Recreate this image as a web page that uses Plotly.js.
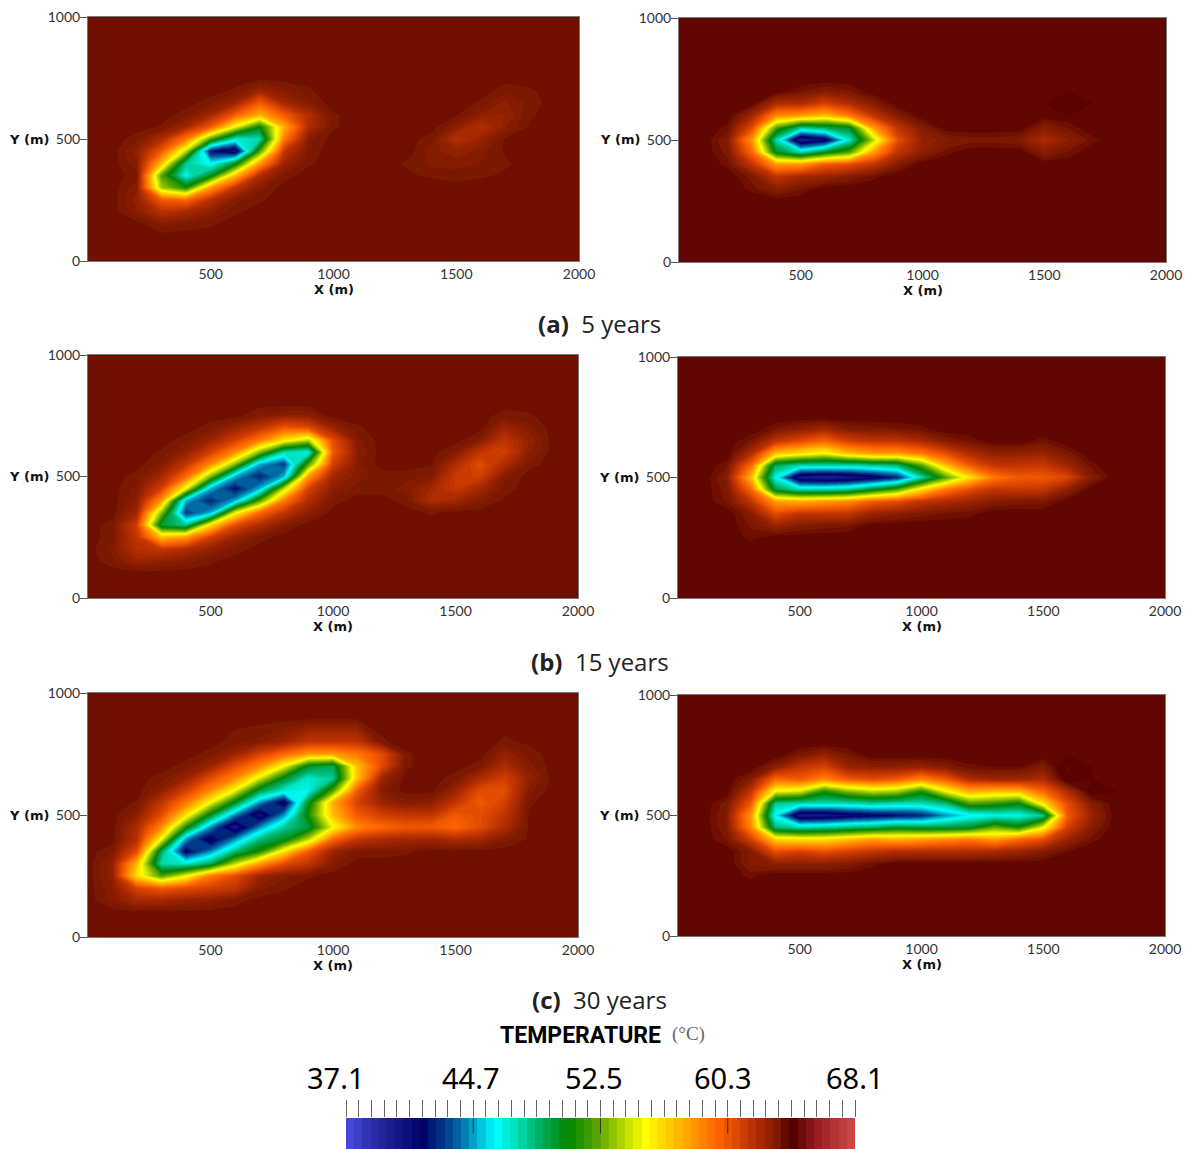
<!DOCTYPE html>
<html><head><meta charset="utf-8">
<script src="https://cdn.plot.ly/plotly-3.0.1.min.js"></script>
<style>html,body{margin:0;padding:0;background:#fff}#g{width:1189px;height:1149px}</style>
</head><body><div id="g"></div>
<script>
// Temperature fields (deg C). x every 100 m; rows listed by yGrid.
const xGrid=[0,100,200,300,400,500,600,700,800,900,1000,1100,1200,1300,1400,1500,1600,1700,1800,1900,2000];
const yGrid=[0,100,150,200,250,300,350,400,450,500,550,600,650,700,750,800,900,1000];
const b=63.5, d=63.85; // background level of left and right panels

const field5L=[
[b],[b],
[b,b,b,63,63.2,63.3],
[b,b,62.9,61.8,62.2,62.8,63.3],
[b,b,62.7,60,59.5,61.8,63,63.3,b,b,b,b,63.55],
[b,b,62.9,53.5,51,58,61.5,63],
[b,b,63.2,52,46.5,50,57,62,63.2,b,b,b,b,63.4,63.3,63.2,63.3,63.4],
[b,b,62.9,57,48,46,50,58,62.5,63.3,b,b,b,63.3,63,63,63.1,63.3],
[b,b,62.7,60,54,42,40.5,52,61.5,63.2,b,b,b,b,63,62.6,63,63.4],
[b,b,63.2,62,59,52,47,47.5,59,63,b,b,b,b,63.2,61.8,62.5,63.4],
[b,b,b,63.3,62.3,60,55,50.5,57.5,62,63.3,b,b,b,b,62.8,61.8,62.8,63.4],
[b,b,b,b,63.2,62.3,60,57.5,60,62,63.3,b,b,b,b,63.4,62.8,62.6,63.3],
[b,b,b,b,b,63.2,62.5,60,62.3,63,63.55,b,b,b,b,b,63.3,62.8,63.2],
[b,b,b,b,b,b,63.3,62.5,63,63.3,63.6,b,b,b,b,b,b,63.2,63.3],
[b,b,b,b,b,b,b,b,b,b,63.55],
[b],[b],[b]];

const field5R=[
[d],[d],[d],[d],[d],
[d,d,d,63.5,62.8,63.3],
[d,d,d,63.2,61.5,62.3,62.5,63,63.5],
[d,d,63.5,61.5,58,58,60,60.5,61.5,63],
[d,d,63.2,59.5,50,47.5,50,52,58,61.5,62.8,63.5,d,d,d,62.9,63.4],
[d,d,63,58,47.5,39.5,41,47,54,60.5,62.6,63,63.2,63.2,63,62,62.8,63.5],
[d,d,63.5,60.5,52,48,49,50,58,61.5,63,d,d,d,d,62.9,63.4],
[d,d,d,62.3,58.5,58,57,59,61.5,63],
[d,d,d,d,62,62,61,62,63,d,d,d,d,d,d,d,64],
[d,d,d,d,d,63.4,63,63.3],
[d],[d],[d],[d]];

const field15L=[
[b],[b],
[b,63.2,62.5,62.8,63,63.3],
[b,63,61.8,61.5,62,62.7,63.2],
[b,63.2,61.5,57,58,61,62.5,63.2],
[b,63.2,61,49.5,48,56,60.5,62,63],
[b,b,62.3,53,43,45,55,59.5,61.5,62.8,b,b,b,b,63.3],
[b,b,62.8,58,45,42.5,45,52,59,62,63.2,b,b,63.2,62,62.3,63,63.4],
[b,b,63,61,55,45,42,45,54,61,62.8,63.2,63.2,63,62.3,61.3,62.3,63.2],
[b,b,63.2,62.3,59.5,53,45,42.5,45,58,62.3,63,63.2,63.2,63,61.3,61,63,63.5],
[b,b,b,63,61.5,58.5,53,45,43,52,61,63,b,b,63.4,62,60.5,62,63.2],
[b,b,b,63.3,62.7,61,58.5,53,47.5,46.5,60,62.8,b,b,b,63,61.5,61,62.8],
[b,b,b,b,63.2,62.5,61,59,56,54,60.5,63,b,b,b,b,63,61.5,62.6],
[b,b,b,b,b,63.2,62.5,61.5,60,60.5,62.5,63.3,b,b,b,b,b,62.4,63],
[b,b,b,b,b,b,b,63,62.8,62.8,63.55,b,b,b,b,b,b,63.2,63.3],
[b],[b],[b]];

const field15R=[
[d],[d],[d],[d],
[d,d,d,63.5],
[d,d,d,63.3,62.5,63,63.2,63.3],
[d,d,d,63,60.5,61.5,61.5,61.5,62.5,62.8,63.2,63.4,63.5],
[d,d,63.3,61.5,58,57.5,58,58.5,60,60.5,61.5,62,62.5,63,63.2,63.2],
[d,d,63.2,59.5,49.5,47.5,47.5,48,50,52,56,59,60.5,61.5,61.3,61.5,62.8],
[d,d,63,57,46.5,40,39.5,40,41,42.5,47.5,52,56,59,60,60,60.8,63],
[d,d,63.4,59.5,49,47.5,47.5,47.5,48,48.5,52,57,60,61.5,61.5,61.3,62.4,63.5],
[d,d,d,62,57,56,55,57,58,58,59,60.5,62,62.7,62.7,62.5,63.2],
[d,d,d,63.3,61.5,60.5,59.5,61,61.5,61.5,62,63,63.4,d,d,63.4],
[d,d,d,d,63.3,62.8,62.3,63,63.2,63.3,63.5],
[d],[d],[d],[d]];

const field30L=[
[b],[b],
[b,63,62.2,62.3,62.6,62.8,63.2],
[b,62.9,60.8,60,60.5,61,61.5,63,63.3],
[b,62.7,56,52,55,59,60.5,62.5,63,63.3],
[b,62.7,57,47.5,47,49,54,58,60.5,61.5,63],
[b,63.1,60.5,49,41.5,44.5,48.5,51,56,60,62.5,63.2,63.2,63.3],
[b,b,61.8,55,44.5,41,44.5,48.5,50,54,59.5,61.5,62,62.3,62.4,62,62.3,63,63.4],
[b,b,62,58.5,51,44.5,40,44.5,48,49.5,55,58.5,59.5,60,60,59.5,60.5,62,63.4],
[b,b,62.8,60.5,56,50,44.5,40.5,44.5,51,57,60,61,61.5,61.5,60,60.5,61.5,63.4],
[b,b,63.3,61.5,59,55,50,44.5,41,50,57.5,61,62.5,63,62.8,61.5,60,61,63.3],
[b,b,b,62.8,61,58.5,55,49.5,47,46.5,52,60,63,b,b,62.5,60.5,60.5,63],
[b,b,b,63.2,62.5,60.5,58.5,54.5,50,47,48,57,62.5,b,b,63.2,62,61,62.6],
[b,b,b,b,63.2,62.5,60.5,58.5,55,50,49,57,60.5,63.3,b,b,63.2,62,63],
[b,b,b,b,b,63.2,62.5,61,59.5,58,58,59,60.5,63.3,b,b,b,62.6,63.2],
[b,b,b,b,b,b,63.2,63,62.5,61.5,61.5,61.5,63.3,b,b,b,b,63.3,63.4],
[b],[b]];

const field30R=[
[d],[d],[d],[d],
[d,d,d,63.5],
[d,d,d,63,62.8,62.8,62.8,63,63.5],
[d,d,d,63,60.5,61,60.5,61,61.5,62,62,62,62,62.2,62.5,63,63.6],
[d,d,63.3,61,56.5,56,56,57,58,57.5,58,58.5,59,58,59.5,60.5,62.5,63.5],
[d,d,63.1,58.5,48.5,47.5,48,48.5,49,50,49.5,49.5,50,52.5,51,55,61,63],
[d,d,63,58,46,40,40,41,41.5,42,42.5,44.5,46,46.5,46.5,48,60,62.5],
[d,d,63.2,60,48,47.5,47.5,47.5,48,47.5,47.5,48.5,52,51.5,50.5,56,60.5,63],
[d,d,d,61.5,55,54.5,51,53,54,53.5,51,55,57.5,57,57,59.5,62,64.2],
[d,d,d,63,59.5,60,58.5,60,60.5,60,58.5,60,62,62.5,62.5,62,64.3],
[d,d,d,d,62.8,61.5,60.8,62.5,62.8,62.7,62.5,63,63.5,63.6,63.6,63,64.4],
[d,d,d,d,d,63.2,62.5,63.3],
[d],[d],[d]];

const captions=["(a)","5 years","(b)","15 years","(c)","30 years"];
const barBands=[37.35,37.85,38.35,38.85,39.35,39.85,40.35,40.85,41.35,41.85,42.35,42.85,43.35,43.85,44.35,44.85,45.35,45.85,46.35,46.85,47.35,47.85,48.35,48.85,49.35,49.85,50.35,50.85,51.35,51.85,52.35,52.85,53.35,53.85,54.35,54.85,55.35,55.85,56.35,56.85,57.35,57.85,58.35,58.85,59.35,59.85,60.35,60.85,61.35,61.85,62.35,62.85,63.35,63.85,64.35,64.85,65.35,65.85,66.35,66.85,67.35,67.85];
const barLabels=["37.1","44.7","52.5","60.3","68.1"];
const barInner=[44.85,52.6,60.35];
const barTicks=[37.1,37.875,38.65,39.425,40.2,40.975,41.75,42.525,43.3,44.075,44.85,45.625,46.4,47.175,47.95,48.725,49.5,50.275,51.05,51.825,52.6,53.375,54.15,54.925,55.7,56.475,57.25,58.025,58.8,59.575,60.35,61.125,61.9,62.675,63.45,64.225,65,65.775,66.55,67.325,68.1];
const tempScale=[[0,'rgb(75,75,225)'],[0.06,'rgb(40,40,160)'],[0.152,'rgb(0,0,105)'],[0.22,'rgb(0,100,160)'],[0.294,'rgb(0,255,255)'],[0.332,'rgb(0,225,190)'],[0.385,'rgb(0,170,90)'],[0.437,'rgb(0,135,0)'],[0.493,'rgb(90,165,0)'],[0.55,'rgb(190,220,0)'],[0.587,'rgb(255,255,0)'],[0.647,'rgb(255,190,0)'],[0.73,'rgb(255,100,0)'],[0.797,'rgb(190,50,0)'],[0.85,'rgb(122,24,0)'],[0.865,'rgb(98,6,0)'],[0.878,'rgb(85,0,0)'],[0.925,'rgb(150,30,30)'],[1,'rgb(210,75,75)']];

const W=1189,H=1149;
const panels=[
 {f:field5L, bg:b,box:[88,579,17,261]},
 {f:field5R, bg:d,box:[679,1166,18,262]},
 {f:field15L,bg:b,box:[88,578,355,598]},
 {f:field15R,bg:d,box:[678,1165,357,598]},
 {f:field30L,bg:b,box:[88,578,693,937]},
 {f:field30R,bg:d,box:[678,1165,695,936]}];
const fx=p=>p/W, fy=p=>1-p/H;
const boldFont={size:13,color:'#111',family:'"DejaVu Sans",sans-serif'};
const tickFont={size:14,color:'#333',family:'Lato,sans-serif'};
const traces=[],layout={width:W,height:H,margin:{l:0,r:0,t:0,b:0},paper_bgcolor:'#fff',plot_bgcolor:'#fff',showlegend:false,annotations:[],
 font:{family:'"Open Sans",sans-serif',color:'#333'}};
panels.forEach((p,i)=>{
 const n=i+1;
 const z=p.f.map(r=>{const c=r.slice();while(c.length<xGrid.length)c.push(p.bg);return c;});
 traces.push({type:'contour',x:xGrid,y:yGrid,z:z,xaxis:'x'+n,yaxis:'y'+n,zauto:false,zmin:37.1,zmax:68.1,
  colorscale:tempScale,showscale:false,autocontour:false,contours:{coloring:'fill',start:37.1,end:68.1,size:0.25},line:{width:0,smoothing:0},hoverinfo:'skip'});
 const [l,r,t,bt]=p.box;
 layout['xaxis'+n]={domain:[fx(l),fx(r)],anchor:'y'+n,range:[0,2000],tickvals:[500,1000,1500,2000],ticks:'',
  tickfont:tickFont,showgrid:false,zeroline:false,showline:true,linecolor:'#777',linewidth:1,mirror:true};
 layout['yaxis'+n]={domain:[fy(bt),fy(t)],anchor:'x'+n,range:[0,1000],tickvals:[0,500,1000],ticks:'outside',ticklen:7,tickcolor:'#555',ticklabelstandoff:-3,
  tickfont:tickFont,showgrid:false,zeroline:false,showline:true,linecolor:'#777',linewidth:1,mirror:true};
 layout.annotations.push({xref:'paper',yref:'paper',x:fx(l-59),y:fy((t+bt)/2),text:'<b>Y (m)</b>',showarrow:false,font:boldFont,xanchor:'center',yanchor:'middle'});
 layout.annotations.push({xref:'paper',yref:'paper',x:fx((l+r)/2),y:fy(bt+28),text:'<b>X (m)</b>',showarrow:false,font:boldFont,xanchor:'center',yanchor:'middle'});
});
[[538,661,325,0],[531,668,663,2],[531,668,1001,4]].forEach(c=>{
 layout.annotations.push({xref:'paper',yref:'paper',x:fx((c[0]+c[1])/2),y:fy(c[2]-2),text:'<b>'+captions[c[3]]+'</b>&nbsp; '+captions[c[3]+1],showarrow:false,
  font:{size:24,color:'#222',family:'"Open Sans",sans-serif'},xanchor:'center',yanchor:'middle'});
});
layout.annotations.push({xref:'paper',yref:'paper',x:fx(580),y:fy(1035),text:'<b>TEMPERATURE</b>',showarrow:false,font:{size:23,color:'#000',family:'Roboto,sans-serif'},xanchor:'center',yanchor:'middle'});
layout.annotations.push({xref:'paper',yref:'paper',x:fx(688),y:fy(1034),text:'(°C)',showarrow:false,font:{size:19,color:'#666',family:'"Liberation Serif",serif'},xanchor:'center',yanchor:'middle'});
[336,471,594,723,855].forEach((px,i)=>{
 layout.annotations.push({xref:'paper',yref:'paper',x:fx(px),y:fy(1077),text:barLabels[i],showarrow:false,font:{size:29,color:'#000',family:'"Noto Sans",sans-serif'},xanchor:'center',yanchor:'middle'});
});
traces.push({type:'heatmap',x:barBands,y:[0,1],z:[barBands,barBands],xaxis:'x7',yaxis:'y7',zauto:false,zmin:37.1,zmax:68.1,colorscale:tempScale,showscale:false,zsmooth:false,hoverinfo:'skip'});
barInner.forEach(v=>traces.push({type:'scatter',mode:'lines',x:[v,v],y:[0.5,1],xaxis:'x7',yaxis:'y7',line:{color:'#333',width:1},hoverinfo:'skip'}));
layout.xaxis7={domain:[fx(346),fx(855)],anchor:'y7',side:'top',range:[37.1,68.1],tickmode:'array',tickvals:barTicks,ticktext:barTicks.map(()=>''),
 ticks:'outside',ticklen:17,tickcolor:'#666',tickwidth:1,showgrid:false,zeroline:false,showline:false};
layout.yaxis7={domain:[0,fy(1118)],anchor:'x7',range:[0,1],fixedrange:true,visible:false};
Plotly.newPlot('g',traces,layout,{displayModeBar:false,staticPlot:true});
</script></body></html>
